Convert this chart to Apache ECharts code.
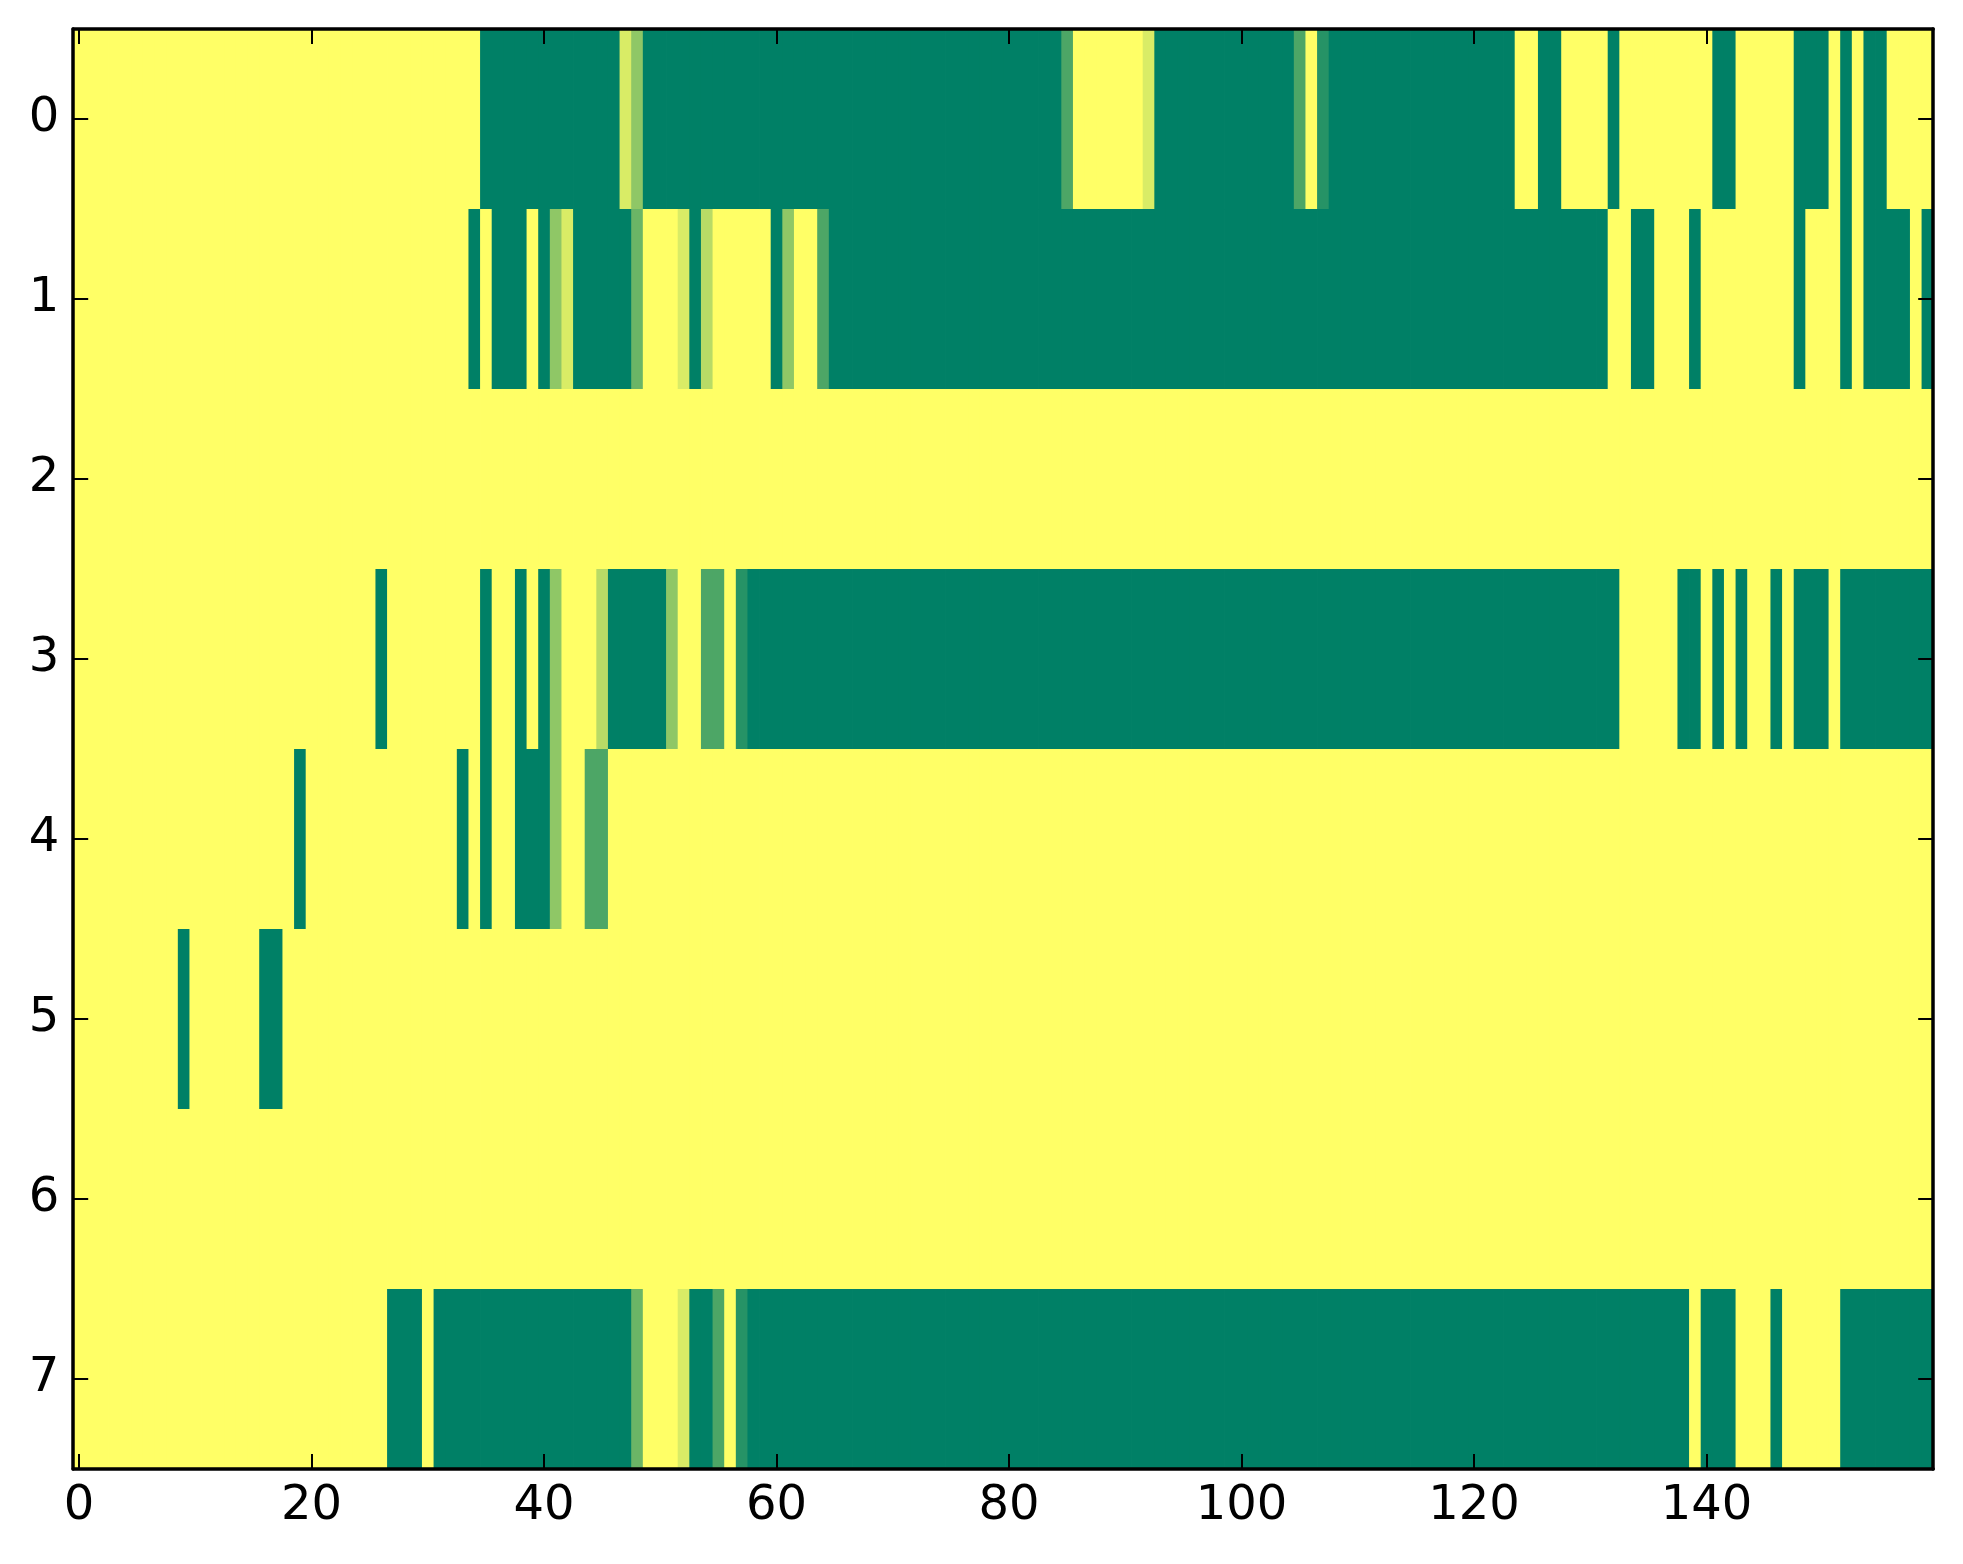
<!DOCTYPE html>
<html>
<head>
<meta charset="utf-8">
<script src="https://cdn.jsdelivr.net/npm/echarts@6/dist/echarts.min.js"></script>
<style>
  html, body { margin: 0; padding: 0; background: #ffffff; }
  #chart { width: 1963px; height: 1564px; }
</style>
</head>
<body>
<div id="chart"></div>
<script>
// Row labels (y axis, top to bottom)
const rowLabels = ['0', '1', '2', '3', '4', '5', '6', '7'];
// X tick labels shown on the axis
const xTickLabels = ['0', '20', '40', '60', '80', '100', '120', '140'];
const columnCount = 160;

// Cell values per row, columns 0..159 (0 = green, 1 = yellow)
const row0 = [
  1,1,1,1,1,1,1,1,1,1, 1,1,1,1,1,1,1,1,1,1,
  1,1,1,1,1,1,1,1,1,1, 1,1,1,1,1,0,0,0,0,0,
  0,0,0,0,0,0,0,0.85,0.56,0, 0,0,0,0,0,0,0,0,0,0,
  0,0,0,0,0,0,0,0,0,0, 0,0,0,0,0,0,0,0,0,0,
  0,0,0,0,0,0.3,1,1,1,1, 1,1,0.85,0,0,0,0,0,0,0,
  0,0,0,0,0,0.3,1,0.15,0,0, 0,0,0,0,0,0,0,0,0,0,
  0,0,0,0,1,1,0,0,1,1, 1,1,0,1,1,1,1,1,1,1,
  1,0,0,1,1,1,1,1,0,0, 0,1,0,1,0,0,1,1,1,1
];
const row1 = [
  1,1,1,1,1,1,1,1,1,1, 1,1,1,1,1,1,1,1,1,1,
  1,1,1,1,1,1,1,1,1,1, 1,1,1,1,0,1,0,0,0,1,
  0,0.56,0.85,0,0,0,0,0,0.42,1, 1,1,0.85,0,0.72,1,1,1,1,1,
  0,0.56,1,1,0.3,0,0,0,0,0, 0,0,0,0,0,0,0,0,0,0,
  0,0,0,0,0,0,0,0,0,0, 0,0,0,0,0,0,0,0,0,0,
  0,0,0,0,0,0,0,0,0,0, 0,0,0,0,0,0,0,0,0,0,
  0,0,0,0,0,0,0,0,0,0, 0,0,1,1,0,0,1,1,1,0,
  1,1,1,1,1,1,1,1,0,1, 1,1,0,1,0,0,0,0,1,0
];
const row2 = [
  1,1,1,1,1,1,1,1,1,1, 1,1,1,1,1,1,1,1,1,1,
  1,1,1,1,1,1,1,1,1,1, 1,1,1,1,1,1,1,1,1,1,
  1,1,1,1,1,1,1,1,1,1, 1,1,1,1,1,1,1,1,1,1,
  1,1,1,1,1,1,1,1,1,1, 1,1,1,1,1,1,1,1,1,1,
  1,1,1,1,1,1,1,1,1,1, 1,1,1,1,1,1,1,1,1,1,
  1,1,1,1,1,1,1,1,1,1, 1,1,1,1,1,1,1,1,1,1,
  1,1,1,1,1,1,1,1,1,1, 1,1,1,1,1,1,1,1,1,1,
  1,1,1,1,1,1,1,1,1,1, 1,1,1,1,1,1,1,1,1,1
];
const row3 = [
  1,1,1,1,1,1,1,1,1,1, 1,1,1,1,1,1,1,1,1,1,
  1,1,1,1,1,1,0,1,1,1, 1,1,1,1,1,0,1,1,0,1,
  0,0.56,1,1,1,0.72,0,0,0,0, 0,0.56,1,1,0.3,0.3,1,0.15,0,0,
  0,0,0,0,0,0,0,0,0,0, 0,0,0,0,0,0,0,0,0,0,
  0,0,0,0,0,0,0,0,0,0, 0,0,0,0,0,0,0,0,0,0,
  0,0,0,0,0,0,0,0,0,0, 0,0,0,0,0,0,0,0,0,0,
  0,0,0,0,0,0,0,0,0,0, 0,0,0,1,1,1,1,1,0,0,
  1,0,1,0,1,1,0,1,0,0, 0,1,0,0,0,0,0,0,0,0
];
const row4 = [
  1,1,1,1,1,1,1,1,1,1, 1,1,1,1,1,1,1,1,1,0,
  1,1,1,1,1,1,1,1,1,1, 1,1,1,0,1,0,1,1,0,0,
  0,0.56,1,1,0.3,0.3,1,1,1,1, 1,1,1,1,1,1,1,1,1,1,
  1,1,1,1,1,1,1,1,1,1, 1,1,1,1,1,1,1,1,1,1,
  1,1,1,1,1,1,1,1,1,1, 1,1,1,1,1,1,1,1,1,1,
  1,1,1,1,1,1,1,1,1,1, 1,1,1,1,1,1,1,1,1,1,
  1,1,1,1,1,1,1,1,1,1, 1,1,1,1,1,1,1,1,1,1,
  1,1,1,1,1,1,1,1,1,1, 1,1,1,1,1,1,1,1,1,1
];
const row5 = [
  1,1,1,1,1,1,1,1,1,0, 1,1,1,1,1,1,0,0,1,1,
  1,1,1,1,1,1,1,1,1,1, 1,1,1,1,1,1,1,1,1,1,
  1,1,1,1,1,1,1,1,1,1, 1,1,1,1,1,1,1,1,1,1,
  1,1,1,1,1,1,1,1,1,1, 1,1,1,1,1,1,1,1,1,1,
  1,1,1,1,1,1,1,1,1,1, 1,1,1,1,1,1,1,1,1,1,
  1,1,1,1,1,1,1,1,1,1, 1,1,1,1,1,1,1,1,1,1,
  1,1,1,1,1,1,1,1,1,1, 1,1,1,1,1,1,1,1,1,1,
  1,1,1,1,1,1,1,1,1,1, 1,1,1,1,1,1,1,1,1,1
];
const row6 = [
  1,1,1,1,1,1,1,1,1,1, 1,1,1,1,1,1,1,1,1,1,
  1,1,1,1,1,1,1,1,1,1, 1,1,1,1,1,1,1,1,1,1,
  1,1,1,1,1,1,1,1,1,1, 1,1,1,1,1,1,1,1,1,1,
  1,1,1,1,1,1,1,1,1,1, 1,1,1,1,1,1,1,1,1,1,
  1,1,1,1,1,1,1,1,1,1, 1,1,1,1,1,1,1,1,1,1,
  1,1,1,1,1,1,1,1,1,1, 1,1,1,1,1,1,1,1,1,1,
  1,1,1,1,1,1,1,1,1,1, 1,1,1,1,1,1,1,1,1,1,
  1,1,1,1,1,1,1,1,1,1, 1,1,1,1,1,1,1,1,1,1
];
const row7 = [
  1,1,1,1,1,1,1,1,1,1, 1,1,1,1,1,1,1,1,1,1,
  1,1,1,1,1,1,1,0,0,0, 1,0,0,0,0,0,0,0,0,0,
  0,0,0,0,0,0,0,0,0.42,1, 1,1,0.85,0,0,0.3,1,0.15,0,0,
  0,0,0,0,0,0,0,0,0,0, 0,0,0,0,0,0,0,0,0,0,
  0,0,0,0,0,0,0,0,0,0, 0,0,0,0,0,0,0,0,0,0,
  0,0,0,0,0,0,0,0,0,0, 0,0,0,0,0,0,0,0,0,0,
  0,0,0,0,0,0,0,0,0,0, 0,0,0,0,0,0,0,0,0,1,
  0,0,0,1,1,1,0,1,1,1, 1,1,0,0,0,0,0,0,0,0
];

const rows = [row0, row1, row2, row3, row4, row5, row6, row7];
const xCategories = [];
for (let i = 0; i < columnCount; i++) xCategories.push(String(i));

const cells = [];
rows.forEach(function (row, r) {
  row.forEach(function (v, c) { cells.push([c, r, v]); });
});

const isXTick = function (index, value) { return xTickLabels.indexOf(String(value)) !== -1; };
const font = 'DejaVu Sans';
const axisLineStyle = { color: '#000000', width: 3.5 };
const tickStyle = { color: '#000000', width: 2 };

// Each cell is drawn from the axis scales; a tiny overlap hides anti-aliasing seams.
function renderCell(params, api) {
  const center = api.coord([api.value(0), api.value(1)]);
  const size = api.size([1, 1]);
  return {
    type: 'rect',
    shape: {
      x: center[0] - size[0] / 2,
      y: center[1] - size[1] / 2,
      width: size[0] + 0.8,
      height: size[1] + 0.8
    },
    style: { fill: api.visual('color') }
  };
}

const chart = echarts.init(document.getElementById('chart'), null, { renderer: 'canvas' });
chart.setOption({
  animation: false,
  backgroundColor: '#ffffff',
  grid: { left: 73.2, top: 29, width: 1860, height: 1440, containLabel: false },
  visualMap: {
    show: false, type: 'continuous', min: 0, max: 1, dimension: 2,
    inRange: { color: ['#008066', '#ffff66'] }
  },
  xAxis: [
    {
      type: 'category', data: xCategories, position: 'bottom', z: 10,
      axisLine: { show: true, lineStyle: axisLineStyle },
      axisTick: { show: true, inside: true, length: 15, alignWithLabel: true, interval: isXTick, lineStyle: tickStyle },
      axisLabel: { show: true, interval: isXTick, fontSize: 48, color: '#000000', fontFamily: font, margin: 14 },
      splitLine: { show: false }, splitArea: { show: false }
    },
    {
      type: 'category', data: xCategories, position: 'top', z: 10,
      axisLine: { show: true, lineStyle: axisLineStyle },
      axisTick: { show: true, inside: true, length: 15, alignWithLabel: true, interval: isXTick, lineStyle: tickStyle },
      axisLabel: { show: false },
      splitLine: { show: false }, splitArea: { show: false }
    }
  ],
  yAxis: [
    {
      type: 'category', data: rowLabels, inverse: true, position: 'left', z: 10,
      axisLine: { show: true, lineStyle: axisLineStyle },
      axisTick: { show: true, inside: true, length: 15, alignWithLabel: true, interval: 0, lineStyle: tickStyle },
      axisLabel: { show: true, interval: 0, fontSize: 48, color: '#000000', fontFamily: font, margin: 14 },
      splitLine: { show: false }, splitArea: { show: false }
    },
    {
      type: 'category', data: rowLabels, inverse: true, position: 'right', z: 10,
      axisLine: { show: true, lineStyle: axisLineStyle },
      axisTick: { show: true, inside: true, length: 15, alignWithLabel: true, interval: 0, lineStyle: tickStyle },
      axisLabel: { show: false },
      splitLine: { show: false }, splitArea: { show: false }
    }
  ],
  series: [{
    type: 'custom',
    xAxisIndex: 0,
    yAxisIndex: 0,
    data: cells,
    encode: { x: 0, y: 1 },
    renderItem: renderCell,
    silent: true,
    progressive: 0
  }]
});
</script>
</body>
</html>
